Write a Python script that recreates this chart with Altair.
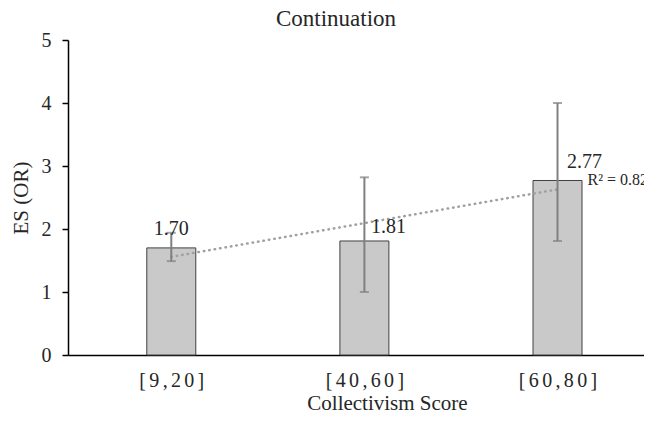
import altair as alt
import pandas as pd

# ---- data ----
categories = ["[9,20]", "[40,60]", "[60,80]"]
positions = [1, 2, 3]
effect_size = [1.70, 1.81, 2.77]
ci_lower = [1.49, 1.00, 1.81]
ci_upper = [1.94, 2.82, 4.00]
value_labels = ["1.70", "1.81", "2.77"]
r2_label = ["R² = 0.8262"]
y_ticks = [0, 1, 2, 3, 4, 5]

FONT = "Liberation Serif"
TEXT = "#262626"

df = pd.DataFrame({
    "pos": positions,
    "cat": categories,
    "es": effect_size,
    "lo": ci_lower,
    "hi": ci_upper,
    "lab": value_labels,
})

spaced = ["\u2006".join(c) for c in categories]
label_expr = "[" + ",".join("'" + s + "'" for s in spaced) + "][datum.value - 1]"

xscale = alt.Scale(domain=[0.491, 3.422], nice=False, zero=False)
yscale = alt.Scale(domain=[0, 5], nice=False)

x_axis = alt.Axis(
    values=positions, labelExpr=label_expr, ticks=False, grid=False,
    domainColor="#000000", domainWidth=1.5,
    labelFont=FONT, labelFontSize=20, labelColor=TEXT, labelPadding=15,
    title="Collectivism Score", titleFont=FONT, titleFontSize=21,
    titleFontWeight="normal", titleColor=TEXT,
    titleX=319, titleY=37, titleBaseline="top", titleAlign="center",
)
y_axis = alt.Axis(
    values=y_ticks, format="d", grid=False, tickSize=6, tickColor="#000000", tickWidth=1.5,
    domainColor="#000000", domainWidth=1.5,
    labelFont=FONT, labelFontSize=20, labelColor=TEXT, labelPadding=11,
    title="ES (OR)", titleFont=FONT, titleFontSize=21, titleFontWeight="normal",
    titleColor=TEXT, titleAngle=270, titleX=-47, titleY=157.5,
    titleBaseline="middle", titleAlign="center",
)


def X():
    return alt.X("pos:Q", scale=xscale, axis=x_axis)


def Y(field):
    return alt.Y(field, scale=yscale, axis=y_axis)


base = alt.Chart(df)

bars = base.mark_bar(size=49, fill="#c9c9c9", stroke="#404040", strokeWidth=1).encode(
    x=X(), y=Y("es:Q")
)

err = base.mark_rule(color="#808080", strokeWidth=2).encode(
    x=X(), y=Y("lo:Q"), y2="hi:Q"
)
cap_lo = base.mark_tick(orient="horizontal", size=9, thickness=2, color="#808080").encode(
    x=X(), y=Y("lo:Q")
)
cap_hi = base.mark_tick(orient="horizontal", size=9, thickness=2, color="#808080").encode(
    x=X(), y=Y("hi:Q")
)

trend = base.transform_regression("pos", "es", extent=[1, 3]).mark_line(
    color="#a0a0a0", strokeWidth=2.5, strokeDash=[0.5, 5], strokeCap="round"
).encode(x=X(), y=Y("es:Q"))

r2 = base.transform_regression("pos", "es", extent=[1, 3]).transform_filter(
    alt.datum.pos == 3
).transform_calculate(txt="'" + r2_label[0] + "'").mark_text(
    align="left", baseline="alphabetic", dx=30, dy=-4, font=FONT, fontSize=16, color=TEXT
).encode(x=X(), y=Y("es:Q"), text="txt:N")

label_offsets = [(0, -13), (24, -8), (27, -12)]
labels = []
for p, (dx, dy) in zip(positions, label_offsets):
    labels.append(
        base.transform_filter(alt.datum.pos == p).mark_text(
            align="center", baseline="alphabetic", dx=dx, dy=dy,
            font=FONT, fontSize=20, color=TEXT
        ).encode(x=X(), y=Y("es:Q"), text="lab:N")
    )

chart = alt.layer(bars, trend, err, cap_lo, cap_hi, r2, *labels).properties(
    width=576, height=315,
    title=alt.TitleParams(
        "Continuation", font=FONT, fontSize=23, fontWeight="normal", color=TEXT,
        anchor="middle", frame="group", dx=-20, offset=-1, baseline="top",
    ),
    autosize=alt.AutoSizeParams(type="none"),
    padding={"left": 60, "top": 32, "right": 0, "bottom": 58},
).configure(background="white", font=FONT).configure_axis(
    labelFont=FONT, titleFont=FONT
).configure_view(stroke=None)

chart.save("out.html", embed_options={"renderer": "svg", "actions": False})
